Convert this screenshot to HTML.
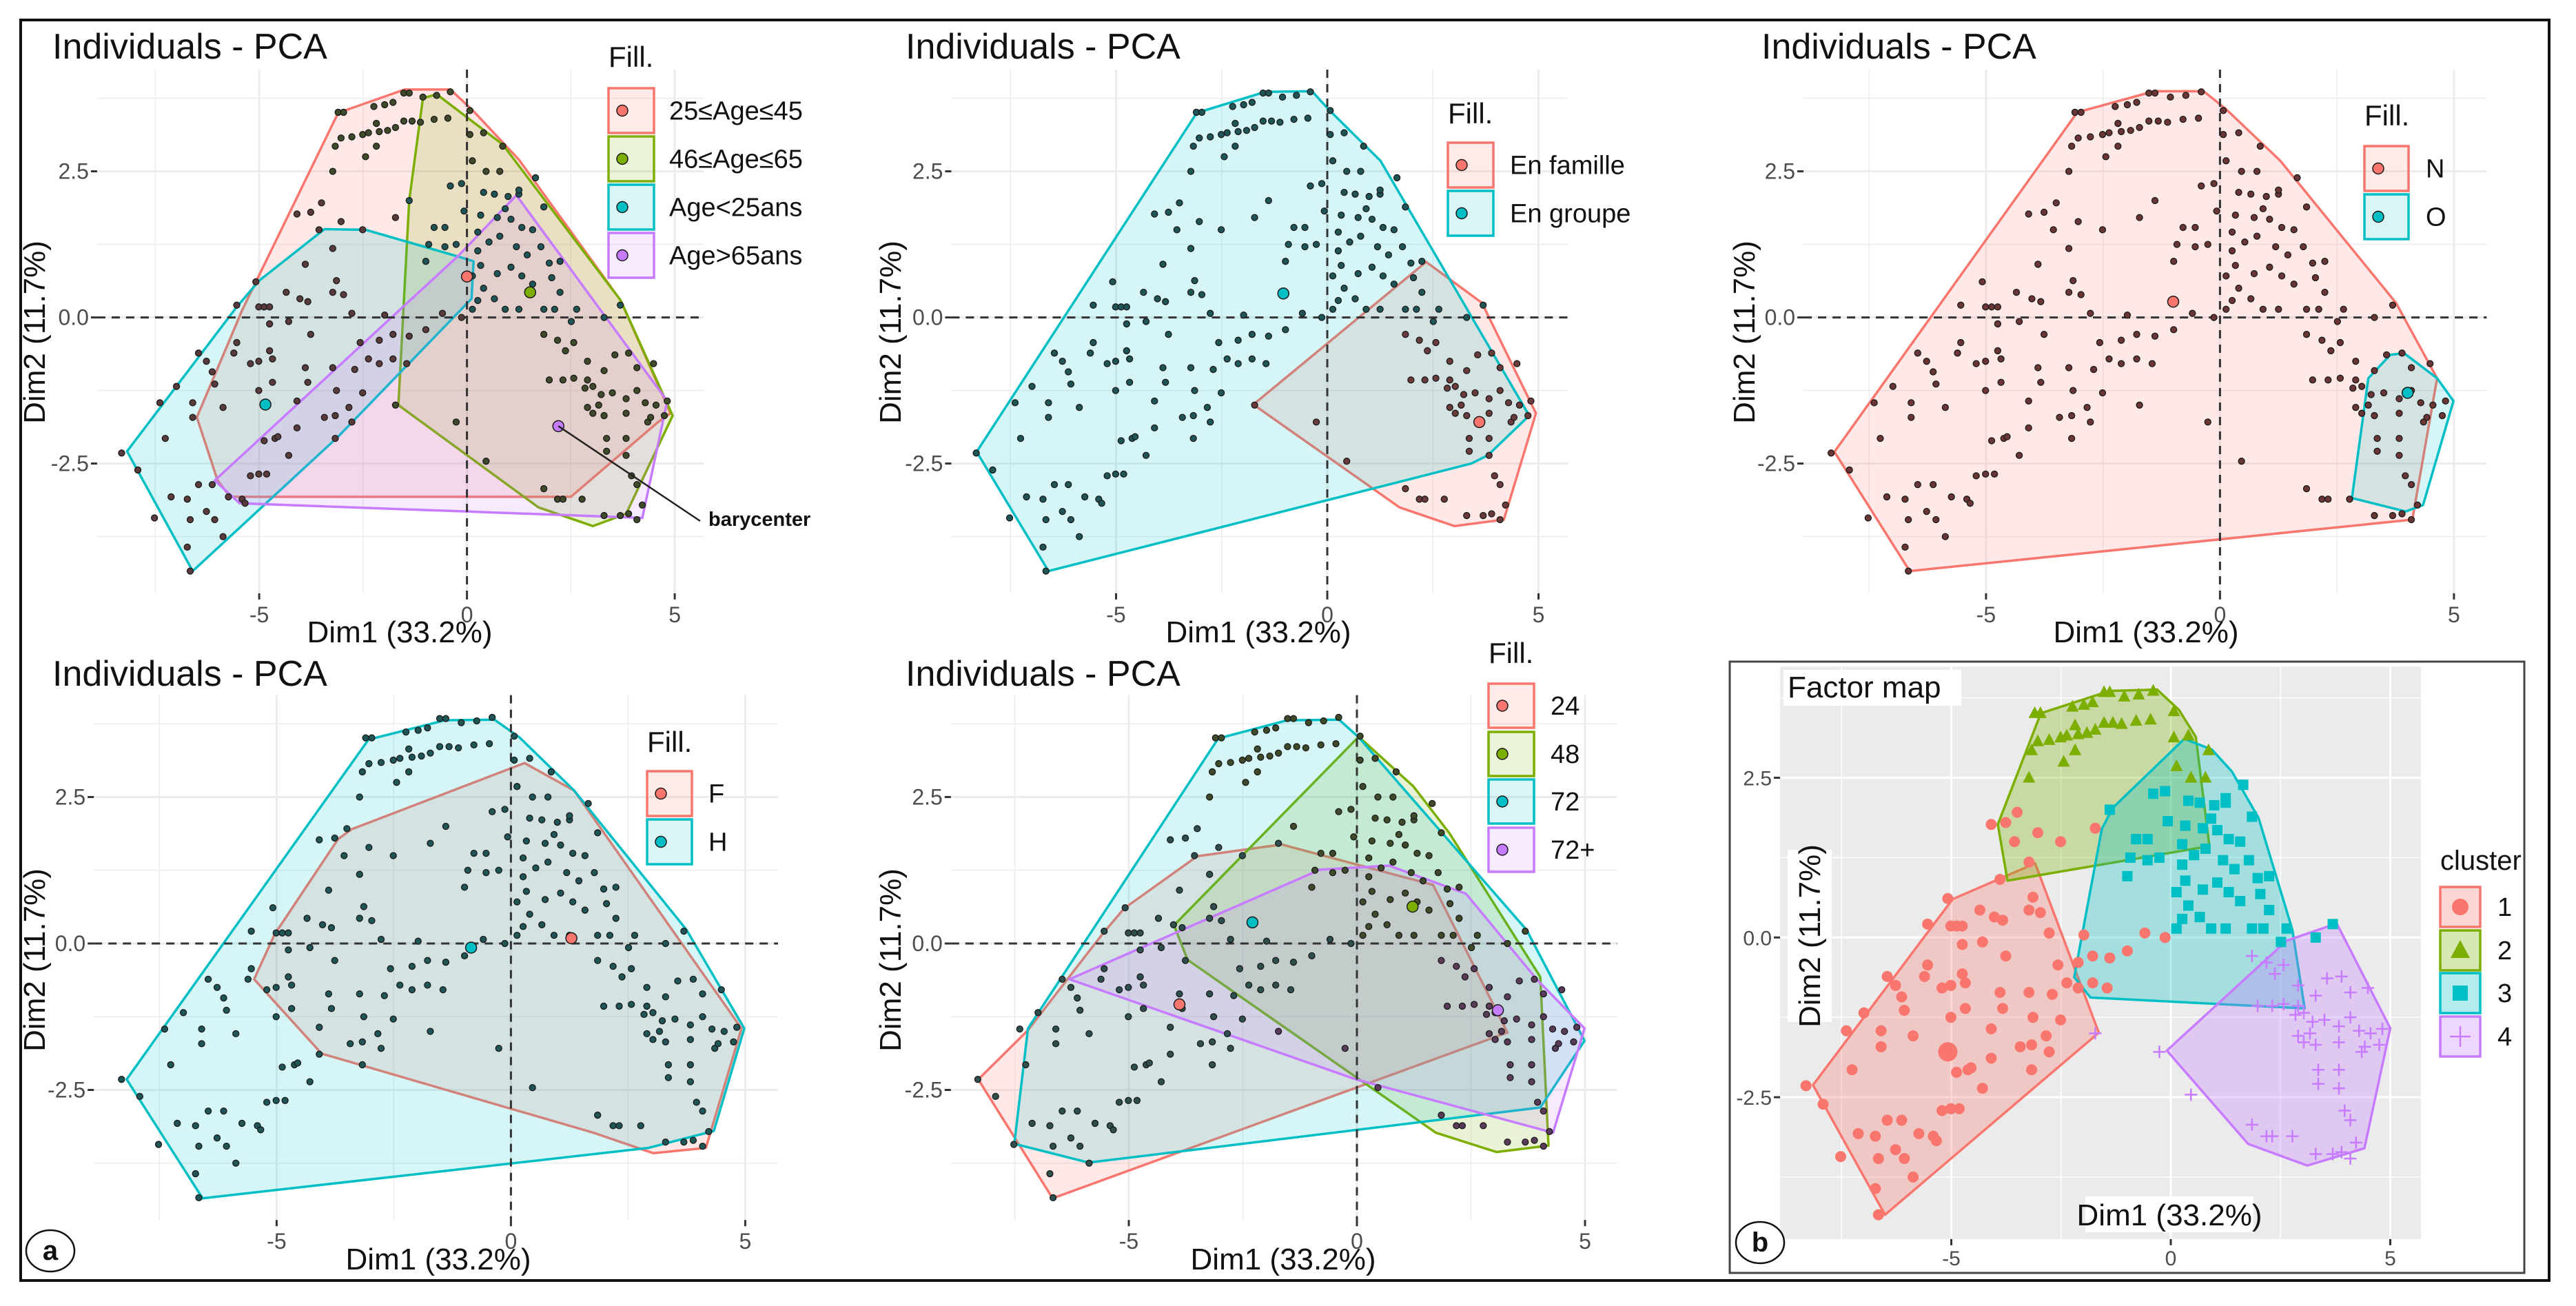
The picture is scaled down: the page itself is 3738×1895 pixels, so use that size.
<!DOCTYPE html>
<html><head><meta charset="utf-8"><style>
html,body{margin:0;padding:0;background:#fff}
svg{display:block}
text{font-family:"Liberation Sans",Arial,sans-serif}
</style></head><body>
<svg id="fig" width="3738" height="1895" viewBox="0 0 3738 1895" xmlns="http://www.w3.org/2000/svg">
<rect x="0" y="0" width="3738" height="1895" fill="#fff"/>
<rect x="30" y="29" width="3669" height="1829" fill="none" stroke="#111" stroke-width="4"/>
</svg>
<script>
// ---- data: individuals coordinates (Dim1, Dim2) ----
const arcX=[-3.10,-2.97,-2.24,-1.98,-1.78,-1.52,-1.39,-1.06,-0.73,-0.40,0.07,-3.17,-3.03,-2.77,-2.51,-2.37,-2.11,-1.91,-1.72,-1.52,-1.32,-1.12,-0.79,-0.46,-2.18,-2.18,-2.44,0.07,0.40,0.86,-3.23,0.13,0.46,0.79];
const arcY=[3.51,3.51,3.61,3.64,3.68,3.84,3.84,3.77,3.80,3.86,3.54,2.93,3.07,3.09,3.13,3.16,3.18,3.20,3.25,3.36,3.36,3.34,3.39,3.41,3.32,2.93,2.75,3.13,3.16,2.93,2.50,2.68,2.50,2.50];
const midX=[-0.40,-0.13,0.40,0.66,0.99,1.25,1.85,0.33,0.73,1.06,1.32,1.58,0.26,0.53,0.79,1.19,1.45,1.78,1.98,2.24,0.26,0.33,0.73,1.06,1.32,1.58,0.40,0.66,0.92,1.25,1.85,2.11,2.64,2.04,2.24,0.13,0.13,0.26,-0.26,-0.53,-0.92,-0.79,-0.53,-0.07,-1.39,-0.99,2.51,3.30,3.69,1.65,1.25,0.92];
const midY=[2.25,2.29,2.14,2.11,2.07,2.11,1.89,1.75,1.71,1.68,1.54,1.50,1.46,1.29,1.39,1.21,1.07,1.21,0.93,0.96,1.14,0.89,0.75,0.86,0.71,0.57,0.50,0.32,0.14,0.14,0.14,0.14,0.14,0.68,0.43,0.71,0.14,0.29,1.25,1.21,1.25,1.54,1.54,1.82,2.00,0.96,-0.07,0.00,0.21,2.39,2.18,1.86];
const rightX=[1.85,2.18,2.57,2.37,2.90,3.30,3.56,3.89,4.09,4.49,1.98,2.31,2.57,2.90,3.03,2.84,3.23,3.50,3.83,4.09,4.29,4.55,4.82,2.90,3.03,3.17,3.30,3.83,4.35,4.75,4.42,3.36,3.83,3.36,3.83,1.85,2.18,2.31,2.77,3.30,3.69,3.89,4.09,4.22,0.46,-0.26,-1.72,4.09,3.96];
const rightY=[-0.29,-0.39,-0.43,-0.57,-0.75,-0.91,-0.64,-0.61,-0.86,-0.79,-1.07,-1.07,-1.04,-1.07,-1.18,-1.21,-1.32,-1.29,-1.39,-1.25,-1.46,-1.50,-1.43,-1.54,-1.64,-1.50,-1.68,-1.64,-1.79,-1.68,-1.71,-2.07,-2.07,-2.29,-2.36,-2.93,-3.11,-3.11,-3.11,-3.39,-3.39,-3.36,-3.46,-3.21,-2.46,-1.79,-1.50,-2.86,-2.71];
const leftX=[-4.09,-3.76,-3.50,-3.03,-3.56,-2.51,-1.72,-3.23,-3.89,-5.08,-5.54,-5.01,-4.88,-4.75,-4.35,-4.02,-3.83,-3.23,-2.97,-3.14,-2.77,-1.98,-0.59,-0.13,-4.75,-4.29,-3.76,-2.57,-2.11,-1.78,-1.39,-0.99,-6.46,-6.27,-5.54,-5.61,-5.21,-5.01,-4.68,-4.75,-3.89,-3.23,-2.70,-2.37,-2.11,-1.78,-1.45,-6.13,-6.07,-5.01,-4.68,-4.09,-3.83,-3.14,-2.51,-3.43,-2.84,-3.17,-2.77,-3.17,-4.29,-4.88,-4.62,-5.01,-4.82,-5.21,-6.60,-5.87,-6.60,-6.99,-7.39,-7.26,-7.92,-8.31,-7.12,-6.73,-6.46,-6.13,-6.27,-6.66,-6.07,-5.87,-6.73,-7.52,-6.66,-5.74,-5.41,-5.34,-4.09,-4.55];
const leftY=[1.77,1.80,1.96,1.64,1.50,1.50,1.71,1.18,0.91,0.61,0.21,0.18,0.18,0.18,0.43,0.32,0.27,0.43,0.39,0.63,0.07,0.04,0.07,0.00,-0.11,-0.07,-0.29,-0.43,-0.39,-0.29,-0.32,-0.21,-0.61,-0.75,-0.43,-0.61,-0.79,-0.75,-0.71,-0.57,-0.86,-0.86,-0.89,-0.71,-0.79,-0.71,-0.79,-0.93,-1.14,-1.25,-1.11,-1.43,-1.11,-1.25,-1.29,-1.71,-1.54,-1.68,-1.79,-2.07,-2.36,-2.11,-2.07,-2.68,-2.68,-2.71,-1.71,-1.54,-1.46,-1.18,-1.46,-2.07,-2.61,-2.32,-3.07,-3.11,-2.86,-2.86,-3.32,-3.46,-3.46,-3.75,-3.93,-3.43,-4.34,-3.07,-3.11,-3.18,-1.89,-2.04];

// ---- hulls per panel (Dim1 / Dim2 vertices) and barycenters ----
const ageHullRed=[[-3.1,3.5],[-1.5,3.9],[-0.4,3.9],[0.13,3.55],[1.25,2.7],[3.7,0.29],[4.9,-1.64],[4.6,-1.79],[2.5,-3.07],[-5.7,-3.07],[-6.0,-2.79],[-6.5,-1.71],[-5.4,0.14]];
const ageHullGreen=[[-0.73,3.82],[0.86,2.96],[3.7,0.29],[4.95,-1.68],[3.83,-3.36],[3.03,-3.57],[1.72,-3.25],[-1.65,-1.5],[-1.39,2.0],[-1.06,3.75]];
const ageHullTeal=[[-3.43,1.51],[-2.44,1.5],[-0.2,1.04],[0.16,0.96],[0.11,0.32],[-3.1,-2.04],[-6.6,-4.34],[-8.18,-2.29],[-5.54,0.18],[-5.0,0.63]];
const ageHullPurple=[[1.19,2.09],[4.82,-1.43],[4.22,-3.43],[-5.47,-3.18],[-6.07,-2.79],[-0.2,1.06]];
const ageBary=[[0,0.7],[1.52,0.43],[-4.85,-1.49],[2.2,-1.86]];
const grpHullTeal=[[-3.09,3.5],[-1.47,3.86],[-0.36,3.87],[0.03,3.56],[1.26,2.68],[4.78,-1.68],[3.8,-2.36],[3.41,-2.5],[-6.6,-4.34],[-8.3,-2.3]];
const grpHullRed=[[2.34,0.95],[3.66,0.25],[4.94,-1.64],[4.18,-3.46],[3.01,-3.57],[1.71,-3.25],[-1.75,-1.49]];
const grpBary=[[3.6,-1.79],[-1.04,0.41]];
const noHullRed=[[-3.05,3.51],[-1.41,3.87],[-0.35,3.87],[0.12,3.57],[1.29,2.68],[3.76,0.25],[4.64,-1.04],[4.11,-3.46],[-6.63,-4.34],[-8.24,-2.3]];
const noHullTeal=[[3.64,-0.64],[3.93,-0.61],[4.64,-1.04],[4.99,-1.43],[4.34,-3.21],[3.97,-3.32],[2.82,-3.09],[3.17,-1.04]];
const noBary=[[-1.0,0.27],[4.01,-1.29]];
const sexHullTeal=[[-3.04,3.48],[-1.41,3.81],[-0.35,3.82],[0.18,3.52],[1.35,2.61],[3.75,0.23],[4.98,-1.45],[4.33,-3.2],[2.93,-3.49],[-6.58,-4.35],[-8.2,-2.32]];
const sexHullRed=[[-3.4,1.95],[0.29,3.08],[1.35,2.61],[4.92,-1.45],[4.16,-3.49],[3.04,-3.58],[1.76,-3.23],[-4.04,-1.88],[-5.48,-0.61],[-5.04,0.16],[-3.69,1.78]];
const sexBary=[[1.29,0.09],[-0.85,-0.07]];
const durHullRed=[[-8.3,-2.32],[-7.21,-1.48],[-5.58,0.16],[-5.1,0.6],[-3.5,1.49],[-1.65,1.69],[1.67,1.0],[3.3,-1.52],[-6.67,-4.35]];
const durHullGreen=[[0.04,3.53],[1.24,2.68],[2.03,1.88],[4.02,-0.57],[4.2,-3.45],[3.06,-3.56],[1.73,-3.23],[-3.71,-0.28],[-4.01,0.31]];
const durHullTeal=[[-3.04,3.5],[-1.53,3.81],[-0.39,3.82],[0.04,3.52],[3.72,0.23],[4.99,-1.66],[4.02,-2.8],[-5.88,-3.74],[-7.51,-3.42],[-7.21,-1.45]];
const durHullPurple=[[-6.3,-0.61],[-0.81,1.26],[0.7,1.33],[2.39,0.85],[3.94,-0.61],[4.99,-1.45],[4.3,-3.23],[-0.02,-2.32]];
const durBary=[[-3.89,-1.04],[1.22,0.63],[-2.29,0.36],[3.09,-1.14]];
const clHull1=[[-3.09,1.16],[-1.64,-1.49],[-6.51,-4.34],[-8.15,-2.31],[-4.97,0.6]];
const clHull2=[[-2.96,3.51],[-1.39,3.86],[-0.31,3.88],[0.19,3.56],[0.57,3.14],[0.88,1.43],[-3.72,0.89],[-3.94,1.77]];
const clHull3=[[0.31,3.11],[0.94,2.94],[1.39,2.6],[2.0,1.87],[2.77,0.12],[3.05,-1.11],[-1.83,-0.94],[-2.2,-0.62],[-1.57,1.7],[-1.32,2.03]];
const clHull4=[[3.78,0.22],[5.0,-1.42],[4.41,-3.3],[3.11,-3.57],[1.76,-3.23],[-0.09,-1.77],[2.64,-0.05]];
const xTicks=[-5,0,5], xTickLabels=["-5","0","5"];
const yTicks=[2.5,0,-2.5], yTickLabels=["2.5","0.0","-2.5"];

const RED="#F8766D",GREEN="#7CAE00",TEAL="#00BFC4",PURPLE="#C77CFF";
const NS="http://www.w3.org/2000/svg";
const svg=document.getElementById('fig');
function el(tag,attrs,parent){const e=document.createElementNS(NS,tag);for(const k in attrs)e.setAttribute(k,attrs[k]);(parent||svg).appendChild(e);return e;}
function txt(s,attrs,parent){const e=el('text',attrs,parent);e.textContent=s;return e;}

const XMIN=-8.9,XMAX=5.7,YMIN=-4.72,YMAX=4.24;
function makePanel(cfg){
  const g=el('g',{});
  
  
  const X=v=>cfg.x0+v*cfg.sx, Y=v=>cfg.y0-v*cfg.sy;
  const L=X(XMIN),R=X(XMAX),T=Y(YMAX),B=Y(YMIN);
  if(cfg.grey){const bg=el('rect',{x:L,y:T,width:R-L,height:B-T,fill:'#ebebeb'},g);
    }
  const gc=cfg.grey?'#fff':'#ececec';
  [-7.5,-2.5,2.5].forEach(v=>el('line',{x1:X(v),x2:X(v),y1:T,y2:B,stroke:gc,'stroke-width':1.5},g));
  [3.75,1.25,-1.25,-3.75].forEach(v=>el('line',{x1:L,x2:R,y1:Y(v),y2:Y(v),stroke:gc,'stroke-width':1.5},g));
  xTicks.forEach(v=>el('line',{x1:X(v),x2:X(v),y1:T,y2:B,stroke:gc,'stroke-width':3},g));
  yTicks.forEach(v=>el('line',{x1:L,x2:R,y1:Y(v),y2:Y(v),stroke:gc,'stroke-width':3},g));
  // hulls
  cfg.groups.forEach((gr,i)=>{
    const p=el('polygon',{points:gr.hull.map(q=>X(q[0])+','+Y(q[1])).join(' '),fill:gr.color,'fill-opacity':cfg.grey?0.3:0.16,stroke:gr.color,'stroke-width':3.5,'stroke-linejoin':'round'},g);
    
    
  });
  // dashed zero lines
  if(!cfg.grey){
    el('line',{x1:X(0),x2:X(0),y1:T,y2:B,stroke:'#333','stroke-width':3,'stroke-dasharray':'12 9'},g);
    el('line',{x1:L,x2:R,y1:Y(0),y2:Y(0),stroke:'#333','stroke-width':3,'stroke-dasharray':'12 9'},g);
  }
  // points
  const sets=[[leftX,leftY,0],[arcX,arcY,1],[midX,midY,2],[rightX,rightY,3]];
  sets.forEach(s=>{
    for(let i=0;i<s[0].length;i++){
      const cx=X(s[0][i]),cy=Y(s[1][i]);
      let m;
      if(cfg.grey){
        const col=[RED,GREEN,TEAL,PURPLE][s[2]];
        if(s[2]===0)m=el('circle',{cx,cy,r:8,fill:col},g);
        else if(s[2]===1)m=el('polygon',{points:`${cx},${cy-10} ${cx-9},${cy+7} ${cx+9},${cy+7}`,fill:col},g);
        else if(s[2]===2)m=el('rect',{x:cx-7.5,y:cy-7.5,width:15,height:15,fill:col},g);
        else m=el('path',{d:`M${cx-9},${cy}H${cx+9}M${cx},${cy-9}V${cy+9}`,stroke:col,'stroke-width':2.5},g);
      } else {
        m=el('circle',{cx,cy,r:4.5,fill:cfg.dot(s[2],s[0][i],s[1][i]),stroke:'#1a1a1a','stroke-width':1.3},g);
      }
      
      
    }
  });
  // barycenters
  cfg.groups.forEach(gr=>{if(!gr.bary)return;
    const c=el('circle',{cx:X(gr.bary[0]),cy:Y(gr.bary[1]),r:cfg.grey?14:8,fill:gr.color,stroke:cfg.grey?'none':'#1a1a1a','stroke-width':1.5},g);
    
    
  });
  // ticks
  xTicks.forEach((v,i)=>{
    el('line',{x1:X(v),x2:X(v),y1:B,y2:B+9,stroke:'#333','stroke-width':3},g);
    const t=txt(xTickLabels[i],{x:X(v),y:B+cfg.tickDy,'text-anchor':'middle','font-size':cfg.tickFs,fill:'#4d4d4d'},g);
    
  });
  yTicks.forEach((v,i)=>{
    el('line',{x1:L-9,x2:L,y1:Y(v),y2:Y(v),stroke:'#333','stroke-width':3},g);
    const t=txt(yTickLabels[i],{x:L-12,y:Y(v)+11,'text-anchor':'end','font-size':cfg.tickFs,fill:'#4d4d4d'},g);
    
  });
  // titles
  if(cfg.grey){
    const b1=el('rect',{x:cfg.dim1.x-122,y:cfg.dim1.y-42,width:244,height:52,fill:'#fff'},g);
    const b2=el('rect',{x:cfg.dim2.x-32,y:cfg.dim2.y-125,width:64,height:250,fill:'#fff'},g);
  }
  const t1=txt('Dim1 (33.2%)',{x:cfg.dim1.x,y:cfg.dim1.y,'text-anchor':'middle','font-size':44,fill:'#111'},g);
  
  const t2=txt('Dim2 (11.7%)',{x:0,y:0,'text-anchor':'middle','font-size':44,fill:'#111',transform:`translate(${cfg.dim2.x+15},${cfg.dim2.y}) rotate(-90)`},g);
  
  if(cfg.title){
    if(cfg.grey)el('rect',{x:cfg.title.x-6,y:cfg.title.y-40,width:258,height:52,fill:'#fff'},g);
    const tt=txt(cfg.title.s,{x:cfg.title.x,y:cfg.title.y,'font-size':cfg.title.fs,fill:'#111'},g);
    
  }
  // legend
  const lg=cfg.legend;
  const lt=txt(lg.title,{x:lg.x,y:lg.ty,'font-size':lg.tfs,fill:'#111'},g);
  
  cfg.groups.forEach((gr,i)=>{
    const y=lg.ys[i];
    const e=el('g',{},g);
    
    
    el('rect',{x:lg.x,y:y,width:lg.w,height:lg.h,fill:gr.color,'fill-opacity':cfg.grey?0.3:0.15,stroke:gr.color,'stroke-width':3.5},e);
    const cx=lg.x+(cfg.grey?lg.w/2:20),cy=y+lg.h/2;
    if(!cfg.grey)el('circle',{cx,cy,r:8,fill:gr.color,stroke:'#1a1a1a','stroke-width':1.5},e);
    else if(i===0)el('circle',{cx,cy,r:12,fill:gr.color},e);
    else if(i===1)el('polygon',{points:`${cx},${cy-15} ${cx-14},${cy+11} ${cx+14},${cy+11}`,fill:gr.color},e);
    else if(i===2)el('rect',{x:cx-11,y:cy-11,width:22,height:22,fill:gr.color},e);
    else el('path',{d:`M${cx-15},${cy}H${cx+15}M${cx},${cy-15}V${cy+15}`,stroke:gr.color,'stroke-width':2.5},e);
    txt(gr.label,{x:lg.lx,y:cy+13,'font-size':lg.fs,fill:'#111'},e);
  });
  return {g,X,Y};
}

const dark=(c)=>()=>c;
// Panel 1: age
const p1=makePanel({name:'panel-age',x0:677.6,sx:60.3,y0:460.6,sy:84.8,tickDy:42,tickFs:32,
  dim1:{x:580,y:932},dim2:{x:50,y:482},title:{s:'Individuals - PCA',x:76,y:85,fs:52},
  dot:(c)=>['#5a3b3b','#3f4a2a','#1f5556','#3f4a2a'][c],
  legend:{title:'Fill.',x:883,ty:97,tfs:42,w:66,h:65,ys:[128,198,268,338],lx:971,fs:38},
  groups:[{key:'age-25-45',label:'25≤Age≤45',color:RED,hull:ageHullRed,bary:ageBary[0]},
          {key:'age-46-65',label:'46≤Age≤65',color:GREEN,hull:ageHullGreen,bary:ageBary[1]},
          {key:'age-under-25',label:'Age<25ans',color:TEAL,hull:ageHullTeal,bary:ageBary[2]},
          {key:'age-over-65',label:'Age>65ans',color:PURPLE,hull:ageHullPurple,bary:ageBary[3]}]});
// barycenter annotation
(function(){const a=el('line',{x1:p1.X(ageBary[3][0]),y1:p1.Y(ageBary[3][1]),x2:1016,y2:756,stroke:'#222','stroke-width':2.5});

const t=txt('barycenter',{x:1028,y:763,'font-size':29,'font-weight':'bold',fill:'#111'});
})();
// Panel 2
makePanel({name:'panel-travel',x0:1926,sx:61.3,y0:460.6,sy:84.8,tickDy:42,tickFs:32,
  dim1:{x:1826,y:932},dim2:{x:1292,y:482},title:{s:'Individuals - PCA',x:1314,y:85,fs:52},
  dot:(c)=>c===3?'#6a3b3b':'#1f5556',
  legend:{title:'Fill.',x:2101,ty:179,tfs:42,w:66,h:65,ys:[207,277],lx:2191,fs:38},
  groups:[{key:'en-famille',label:'En famille',color:RED,hull:grpHullRed,bary:grpBary[0]},
          {key:'en-groupe',label:'En groupe',color:TEAL,hull:grpHullTeal,bary:grpBary[1]}]});
// Panel 3
makePanel({name:'panel-no',x0:3221.4,sx:67.9,y0:460.6,sy:84.8,tickDy:42,tickFs:32,
  dim1:{x:3114,y:932},dim2:{x:2531,y:482},title:{s:'Individuals - PCA',x:2556,y:85,fs:52},
  dot:dark('#6a3535'),
  legend:{title:'Fill.',x:3431,ty:182,tfs:42,w:64,h:65,ys:[212,282],lx:3520,fs:38},
  groups:[{key:'n',label:'N',color:RED,hull:noHullRed,bary:noBary[0]},
          {key:'o',label:'O',color:TEAL,hull:noHullTeal,bary:noBary[1]}]});
// Panel 4
makePanel({name:'panel-sex',x0:741.4,sx:68,y0:1369,sy:85,tickDy:42,tickFs:32,
  dim1:{x:636,y:1842},dim2:{x:50,y:1393},title:{s:'Individuals - PCA',x:76,y:995,fs:52},
  dot:dark('#1f5556'),
  legend:{title:'Fill.',x:939,ty:1091,tfs:42,w:65,h:65,ys:[1119,1189],lx:1028,fs:38},
  groups:[{key:'f',label:'F',color:RED,hull:sexHullRed,bary:sexBary[0]},
          {key:'h',label:'H',color:TEAL,hull:sexHullTeal,bary:sexBary[1]}]});
// Panel 5
makePanel({name:'panel-duration',x0:1969,sx:66.2,y0:1369,sy:85,tickDy:42,tickFs:32,
  dim1:{x:1862,y:1842},dim2:{x:1292,y:1393},title:{s:'Individuals - PCA',x:1314,y:995,fs:52},
  dot:(c)=>['#2f4f4f','#3f4a2a','#3f4a2a','#5a3b5a'][c],
  legend:{title:'Fill.',x:2160,ty:962,tfs:42,w:66,h:64,ys:[992,1062,1131,1201],lx:2250,fs:38},
  groups:[{key:'d24',label:'24',color:RED,hull:durHullRed,bary:durBary[0]},
          {key:'d48',label:'48',color:GREEN,hull:durHullGreen,bary:durBary[1]},
          {key:'d72',label:'72',color:TEAL,hull:durHullTeal,bary:durBary[2]},
          {key:'d72plus',label:'72+',color:PURPLE,hull:durHullPurple,bary:durBary[3]}]});
// Panel b
(function(){const r=el('rect',{x:2510,y:960,width:1153,height:887,fill:'#fff',stroke:'#444','stroke-width':3});
})();
makePanel({name:'panel-factor-map',grey:true,x0:3150,sx:63.7,y0:1360.3,sy:92.7,tickDy:38,tickFs:30,
  dim1:{x:3148,y:1778},dim2:{x:2626,y:1358},title:{s:'Factor map',x:2594,y:1012,fs:44},
  dot:dark('#000'),
  legend:{title:'cluster',x:3541,ty:1262,tfs:40,w:58,h:58,ys:[1287,1350,1412,1475],lx:3624,fs:38},
  groups:[{key:'cluster-1',label:'1',color:RED,hull:clHull1,bary:[-5.08,-1.79]},
          {key:'cluster-2',label:'2',color:GREEN,hull:clHull2},
          {key:'cluster-3',label:'3',color:TEAL,hull:clHull3},
          {key:'cluster-4',label:'4',color:PURPLE,hull:clHull4}]});
// panel letters
[['a',73,1815],['b',2554,1803]].forEach(d=>{
  const g=el('g',{});
  
  
  el('ellipse',{cx:d[1],cy:d[2],rx:35,ry:30,fill:'#fff',stroke:'#111','stroke-width':2.5},g);
  txt(d[0],{x:d[1],y:d[2]+13,'text-anchor':'middle','font-size':40,'font-weight':'bold',fill:'#111'},g);
});
</script>
</body></html>
